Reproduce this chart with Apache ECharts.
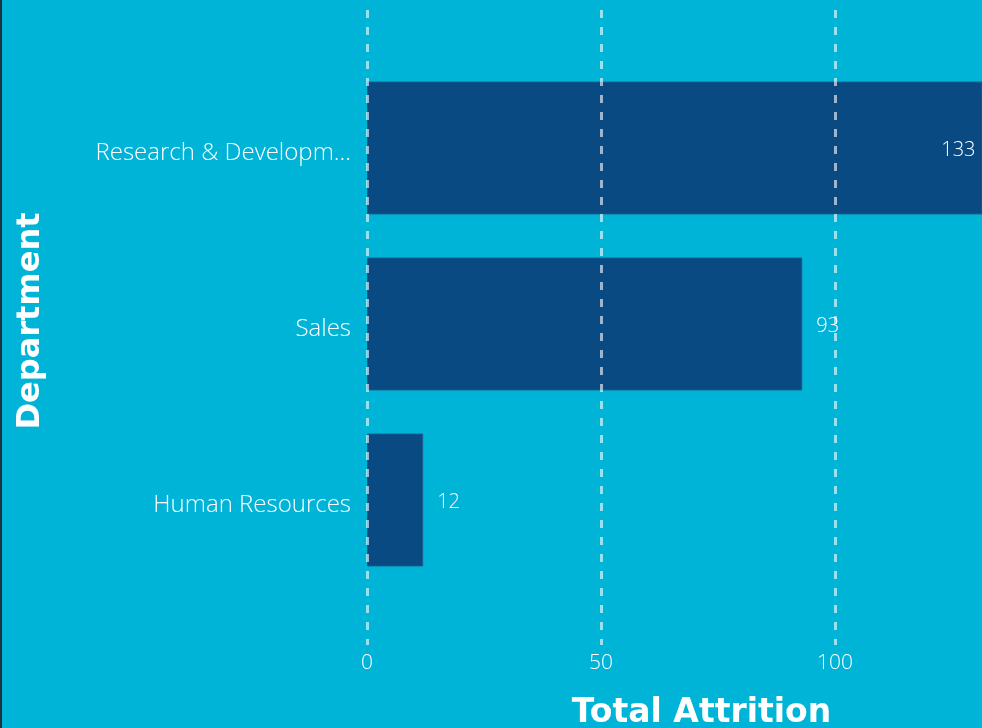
<!DOCTYPE html>
<html lang="en">
<head>
	<meta charset="UTF-8">
	<title>attrition</title>
	<style>
		html, body{
			margin: 0;
			padding: 0;
			background: #00B4D8;
		}
		#main{
			width: 982px;
			height: 728px;
		}
	</style>
	<script src="https://cdn.jsdelivr.net/npm/echarts@6/dist/echarts.min.js"></script>
</head>
<body>
	<div id="main"></div>
	<script>
		// data
		var departments = ['Research & Development', 'Sales', 'Human Resources'];
		var attrition = [133, 93, 12];
		var xTicks = [0, 50, 100];
		var xMax = 131.4; // visible end of the value axis (chart is cut at the right)

		var myChart = echarts.init(document.getElementById('main'));

		var labelFont = '"Segoe UI", "Open Sans", "Noto Sans", sans-serif';

		// the 133 bar runs off the edge, so its label sits inside
		var barData = attrition.map(function(v){
			var item = {value: v};
			if (v > xMax) {
				item.label = {position: 'insideRight', distance: 7};
			}
			return item;
		});

		var option = {
			backgroundColor: '#00B4D8',
			animation: false,
			graphic: [{
				type: 'rect',
				left: 0,
				top: 0,
				shape: {width: 2, height: 728},
				style: {fill: '#1d3444'}
			}],
			grid: [
				// taller grid only for the dashed lines + tick labels
				{left: 367, right: 0, top: 10, bottom: 83, outerBoundsMode: 'none'},
				// bars
				{left: 367, right: 0, top: 60, bottom: 140, outerBoundsMode: 'none'}
			],
			xAxis: [{
				gridIndex: 0,
				type: 'value',
				min: xTicks[0],
				max: xMax,
				interval: xTicks[1] - xTicks[0],
				z: 5,
				axisLine: {show: false},
				axisTick: {show: false},
				axisLabel: {
					color: '#ffffff',
					fontSize: 21,
					fontWeight: 300,
					fontFamily: labelFont,
					margin: 8,
					showMaxLabel: false
				},
				splitLine: {
					show: true,
					showMaxLine: false,
					lineStyle: {
						color: 'rgba(255,255,255,0.6)',
						width: 3,
						type: [8, 9]
					}
				},
				name: 'Total Attrition',
				nameLocation: 'middle',
				nameGap: 52,
				nameTextStyle: {
					color: '#ffffff',
					fontSize: 33,
					fontWeight: 'bold',
					fontFamily: '"DejaVu Sans", "Liberation Sans", sans-serif',
					padding: [0, 0, 0, 54]
				}
			}, {
				gridIndex: 1,
				type: 'value',
				min: 0,
				max: xMax,
				show: false
			}],
			yAxis: [{
				gridIndex: 0,
				type: 'category',
				show: false,
				data: departments
			}, {
				gridIndex: 1,
				type: 'category',
				inverse: true,
				data: departments,
				axisLine: {show: false},
				axisTick: {show: false},
				axisLabel: {
					color: '#ffffff',
					fontSize: 24,
					fontWeight: 300,
					fontFamily: labelFont,
					margin: 16,
					width: 262,
					overflow: 'truncate',
					ellipsis: '...',
					formatter: function(v){
						return '{a|' + v + '}';
					},
					rich: {
						a: {
							color: '#ffffff',
							fontSize: 24,
							fontWeight: 300,
							fontFamily: labelFont,
							padding: [10, 0, 0, 0]
						}
					}
				},
				name: 'Department',
				nameLocation: 'middle',
				nameGap: 320,
				nameRotate: 90,
				nameTextStyle: {
					color: '#ffffff',
					fontSize: 32,
					fontWeight: 'bold',
					fontFamily: '"DejaVu Sans", "Liberation Sans", sans-serif',
					padding: [0, 0, 0, 6]
				}
			}],
			series: [{
				name: 'Total Attrition',
				type: 'bar',
				xAxisIndex: 1,
				yAxisIndex: 1,
				barCategoryGap: '24.5%',
				clip: true,
				itemStyle: {
					color: '#0A4A82',
					borderColor: '#185c8e',
					borderWidth: 1
				},
				label: {
					show: true,
					position: 'right',
					distance: 14,
					formatter: '{v|{c}}',
					rich: {
						v: {
							color: '#ffffff',
							fontSize: 20,
							fontWeight: 300,
							fontFamily: labelFont,
							padding: [4, 0, 0, 0]
						}
					}
				},
				data: barData
			}]
		};

		myChart.setOption(option);
	</script>
</body>
</html>
